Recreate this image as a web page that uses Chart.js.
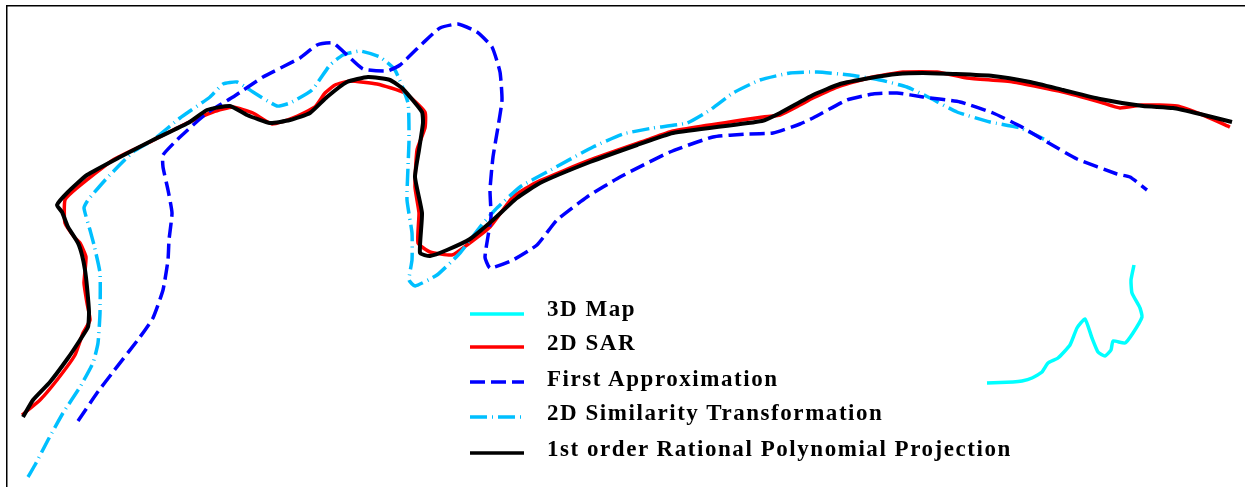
<!DOCTYPE html>
<html>
<head>
<meta charset="utf-8">
<title>Shoreline comparison</title>
<script src="https://cdn.jsdelivr.net/npm/chart.js@4"></script>
<style>
    body { margin: 0; background: #fff; }
    #wrap { position: relative; width: 1245px; height: 487px; overflow: hidden; }
    #legend { position: absolute; left: 470px; top: 296px; }
    .row { position: absolute; left: 0; width: 560px; height: 34px; }
    .row svg { position: absolute; left: 0; }
    .row span {
        position: absolute; left: 77px; top: 0; white-space: nowrap;
        font: bold 23px "Liberation Serif", serif; letter-spacing: 1.55px; color: #000;
    }
</style>
</head>
<body>
<div id="wrap">
    <canvas id="chart" width="1245" height="487"></canvas>
    <div id="legend"></div>
</div>
<script>
// all points, as [x, y] in image pixels
const map3d = [[987,383],[1013,382],[1022,381],[1032,378],[1042,372],[1048,363],[1058,358],[1070,345],[1077,328],[1085,319],[1092,338],[1098,352],[1105,356],[1111,350],[1113,341],[1125,343],[1133,333],[1142,317],[1140,308],[1132,293],[1131,280],[1134,265]];

const sar2d = [[22,415],[40,400],[57,380],[75,355],[83,333],[90,320],[87,303],[84,283],[86,257],[80,243],[75,238],[65,223],[65,200],[77,188],[113,160],[150,142],[183,125],[213,112],[233,107],[253,113],[272,124],[293,118],[315,107],[325,93],[335,85],[350,81],[377,84],[405,93],[425,112],[425,128],[417,150],[415,187],[419,213],[418,243],[430,252],[452,255],[467,245],[490,227],[513,197],[537,182],[590,160],[647,140],[673,131],[763,117],[780,115],[800,105],[813,98],[840,86],[873,77],[903,72],[937,72],[967,78],[1013,82],[1063,92],[1100,102],[1120,108],[1142,105],[1177,106],[1203,115],[1230,127]];

const firstApprox = [[78,421],[97,393],[113,372],[140,337],[153,318],[163,290],[168,260],[169,240],[172,213],[168,190],[163,167],[163,155],[180,137],[207,113],[233,97],[263,77],[300,58],[317,45],[333,43],[347,55],[363,69],[387,71],[400,65],[423,43],[440,28],[458,24],[477,32],[492,47],[500,72],[502,100],[498,127],[493,157],[490,190],[491,217],[485,257],[490,268],[513,260],[537,245],[557,220],[587,197],[620,177],[670,152],[713,137],[747,134],[773,133],[800,124],[813,118],[847,100],[873,94],[897,93],[923,97],[960,102],[993,113],[1020,126],[1047,142],[1077,159],[1117,174],[1130,177],[1147,190]];

const similarity2d = [[28,477],[35,465],[48,440],[63,413],[80,387],[93,363],[98,343],[100,313],[100,273],[94,245],[90,230],[84,208],[88,200],[107,178],[133,152],[153,140],[180,118],[210,97],[223,84],[237,82],[253,92],[277,106],[290,103],[312,90],[330,65],[343,55],[360,51],[380,57],[395,70],[408,103],[409,140],[408,167],[407,200],[412,233],[412,260],[409,280],[415,286],[437,275],[460,253],[480,227],[495,210],[520,187],[547,172],[593,147],[623,134],[653,128],[687,123],[710,110],[733,93],[760,80],[790,73],[817,72],[850,75],[880,80],[907,87],[930,98],[957,112],[990,122],[1020,128],[1050,142]];

const rational1st = [[23,417],[33,400],[50,382],[68,358],[80,340],[88,327],[89,312],[87,287],[85,270],[82,255],[78,243],[68,227],[62,212],[57,205],[68,192],[87,175],[120,157],[153,140],[188,123],[207,110],[230,106],[247,115],[270,123],[290,120],[310,113],[327,97],[347,82],[368,77],[390,80],[403,89],[422,112],[423,123],[419,150],[415,177],[422,213],[420,253],[430,256],[447,250],[470,239],[493,220],[517,198],[540,183],[590,162],[637,145],[673,133],[762,121],[780,113],[813,95],[840,84],[870,78],[897,74],[923,73],[953,74],[993,76],[1030,82],[1063,90],[1100,99],[1143,106],[1173,108],[1200,114],[1232,122]];

const seriesLabels = ['3D Map', '2D SAR', 'First Approximation', '2D Similarity Transformation', '1st order Rational Polynomial Projection'];
const seriesPoints = [map3d, sar2d, firstApprox, similarity2d, rational1st];
const seriesColors = ['#00ffff', '#ff0000', '#0000ff', '#00bfff', '#000000'];
const seriesWidths = [3.5, 3.5, 3.5, 3.5, 4];
const seriesDashes = [[], [], [15, 6], [17, 5, 1, 5], []];
const seriesOrders = [5, 4, 2, 3, 1]; // lower is drawn on top

new Chart(document.getElementById('chart'), {
    type: 'scatter',
    data: {
        datasets: seriesLabels.map((label, i) => ({
            label: label,
            data: seriesPoints[i].map(p => ({ x: p[0], y: p[1] })),
            showLine: true,
            borderColor: seriesColors[i],
            borderWidth: seriesWidths[i],
            borderDash: seriesDashes[i],
            order: seriesOrders[i],
            tension: 0.15,
            pointRadius: 0
        }))
    },
    options: {
        responsive: false,
        animation: false,
        layout: { padding: { left: 7, top: 6 } },
        plugins: { legend: { display: false }, tooltip: { enabled: false } },
        scales: {
            x: {
                type: 'linear', position: 'top', min: 7, max: 1245,
                grid: { display: false, drawTicks: false },
                ticks: { display: false },
                border: { color: '#000', width: 1.5 }
            },
            y: {
                type: 'linear', position: 'left', reverse: true, min: 6, max: 487,
                grid: { display: false, drawTicks: false },
                ticks: { display: false },
                border: { color: '#000', width: 1.5 }
            }
        }
    }
});

// legend sits inside the plot, so it is built by hand
const legendDiv = document.getElementById('legend');
const rowTops = [0, 34, 70, 104, 140];
const keyYs = [314, 347, 382, 417, 453];
seriesLabels.forEach((label, i) => {
    let row = document.createElement('div');
    row.className = 'row';
    row.style.top = rowTops[i] + 'px';
    let keyTop = keyYs[i] - 296 - rowTops[i] - 18;
    row.innerHTML = `<svg width="56" height="34" style="top:${keyTop}px"><line x1="0" y1="18" x2="54" y2="18" stroke="${seriesColors[i]}" stroke-width="3.5" stroke-dasharray="${seriesDashes[i].join(' ')}"/></svg><span>${label}</span>`;
    legendDiv.appendChild(row);
});
</script>
</body>
</html>
